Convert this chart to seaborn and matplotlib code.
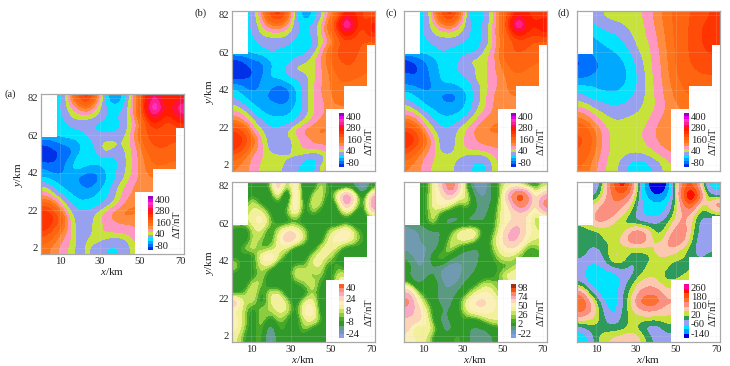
import numpy as np
import matplotlib
matplotlib.use("Agg")
import matplotlib.pyplot as plt
from matplotlib.colors import ListedColormap, BoundaryNorm
from matplotlib.patches import Rectangle
import seaborn as sns

# Delta T values, rows go from y=82 down to y=2, columns from x=2 to x=70.
# Short rows stop where the white corner starts, nothing was read under it.
grid_a = [
    [-30, -30, -25, 60, 130, 170, 90, -5, -70, -50, 10, 90, 170, 280, 170, 170, 200],
    [-30, -30, -10, 25, 60, 90, 30, -5, -30, -25, 20, 80, 200, 400, 220, 200, 300],
    [-30, -30, -20, 15, 20, 22, 18, -8, -25, -5, 18, 85, 150, 260, 160, 170, 240],
    [-30, -30, -25, -8, -5, -8, -25, -30, -30, -20, 15, 45, 130, 150, 140, 130, 150],
    [-30, -30, -30, -30, -25, -5, -5, -15, -10, -5, 25, 80, 120, 140, 140, 130, 130],
    [-80, -70, -55, -50, -45, -30, -5, 20, 22, 10, 25, 60, 110, 130, 130, 120, 120],
    [-90, -85, -80, -70, -40, -30, -20, 22, 5, -5, 25, 50, 90, 110, 115, 110, 100],
    [-90, -85, -70, -50, -25, -25, -30, -30, -30, -5, 20, 50, 75, 100, 100, 90, 90],
    [-55, -70, -70, -35, -35, -50, -55, -40, -25, -5, 22, 50, 75, 80],
    [-40, -50, -50, -60, -65, -80, -70, -50, -25, 0, 30, 50, 65, 70],
    [20, -15, -45, -50, -50, -65, -55, -35, -5, 25, 45, 60, 65],
    [50, 30, -10, -35, -50, -45, -40, -25, -5, 30, 50, 55],
    [120, 90, 30, -5, -30, -30, -25, -5, 20, 40, 70, 70],
    [170, 150, 90, 15, -5, -5, 15, 40, 60, 80, 80, 70],
    [170, 150, 110, 30, -5, -5, 20, 30, 45, 50, 50, 55],
    [150, 110, 70, 35, -5, -5, 22, 35, 38, 40, 42, 50],
    [100, 80, 50, 35, -5, 15, 20, 5, -5, -5, 15, 40],
    [80, 60, 42, 25, -5, 20, -5, -10, -25, -10, 5, 35],
]
grid_b_top = [
    [-30, -30, -10, 60, 130, 170, 110, -5, -60, -40, 5, 60, 100, 200, 170, 140, 130],
    [-30, -30, -5, 25, 80, 90, 50, -5, -30, -10, 25, 90, 170, 380, 200, 130, 190],
    [-30, -30, -10, 18, 22, 22, 18, -5, -30, -5, 30, 80, 130, 210, 150, 130, 180],
    [-30, -30, -25, -5, -5, 0, -5, -25, -30, -25, 15, 45, 110, 130, 130, 120, 110],
    [-30, -35, -30, -25, -5, -20, -30, -30, -30, -5, 40, 90, 130, 140, 130, 110, 110],
    [-90, -75, -60, -60, -40, -35, -30, -5, 0, 22, 55, 85, 120, 130, 120, 110, 100],
    [-95, -90, -80, -70, -40, -30, -5, 20, 22, 22, 45, 80, 100, 120, 115, 100, 90],
    [-90, -85, -80, -60, -35, -35, -20, -10, -5, 25, 45, 70, 90, 100, 90, 85, 80],
    [-45, -60, -75, -50, -55, -70, -60, -35, -5, 25, 50, 70, 90, 80],
    [-25, -45, -50, -55, -65, -75, -70, -50, -10, 30, 50, 65, 80],
    [10, -20, -45, -50, -55, -60, -60, -40, -5, 30, 40, 65, 75],
    [40, 25, -10, -40, -45, -45, -45, -30, -5, 25, 45, 55],
    [80, 50, 20, -5, -30, -30, -30, -5, 20, 40, 60, 65],
    [150, 120, 40, 15, -5, -5, 15, 40, 60, 70, 80, 70],
    [170, 150, 90, 30, -5, -5, 0, 18, 35, 55, 60, 60, 60],
    [160, 120, 60, 38, 0, -5, -5, 22, 38, 40, 40, 48],
    [100, 70, 45, 30, 22, 18, 18, 10, -5, -25, -15, 25, 45],
    [70, 60, 40, 25, 22, 22, -5, -5, -35, -30, 20, 50],
]
grid_b_bottom = [
    [-6, -6, -8, -4, 0, 26, -2, 20, -10, -6, 6, -2, -10, -6, -10, -24, -4],
    [-6, -6, 0, -6, -6, 14, -20, 26, -12, 6, 8, -6, 14, 36, 14, -10, 24],
    [-6, -2, 8, -2, -6, -2, -6, 24, -8, 8, 4, -8, 0, 30, 10, -8, 34],
    [6, 4, 8, 12, -2, -6, 2, 14, -6, 4, -4, -6, -4, 8, -4, -6, 14],
    [6, 4, 10, 14, 4, -6, -6, -4, -4, -8, -6, -6, -8, -6, -8, -6, -6],
    [-4, -6, 4, 8, -6, 6, 18, 16, 4, -4, -6, 4, 10, 20, 4, -2, -4],
    [-4, -6, 6, 2, -4, 10, 22, 18, 6, -6, -6, 10, 14, 14, 6, -2, -2],
    [-4, 4, 6, -2, 2, 8, 6, -6, -6, -6, 8, 12, 4, -6, -4, -2, -2],
    [-2, -4, -6, 14, 22, 6, -4, -8, -6, 8, 10, 4, -4, -6, -6],
    [6, -6, 0, 4, 4, -6, -6, 4, 2, 6, 8, -6, 2, -6],
    [-4, -6, -4, 6, -6, -8, -6, 8, 6, 0, 4, -6, 6],
    [-6, -6, 8, 2, -6, -6, -6, -2, 2, 8, -2, -6, 10],
    [-4, 2, 10, -6, 8, 8, -6, -6, -6, 4, -4, -8, 6],
    [24, 2, 6, -6, 6, 14, 6, -6, 8, 12, -6, -6, 2],
    [8, 4, -6, 6, 2, 8, 8, -6, 14, 16, -6, -6, 16],
    [14, 4, -6, 6, -4, 4, -2, -6, 6, 10, 2, -8, 8],
    [12, 2, -6, 6, -20, 2, -2, -4, 4, -2, -6, -8, 2],
    [8, -2, -4, 4, -22, -2, -4, -6, -2, -10, -8, -4, 4],
]
grid_c_top = [
    [-30, -30, -25, 60, 130, 170, 100, -5, -50, -10, 25, 90, 130, 200, 170, 160, 150],
    [-30, -30, -10, 25, 70, 90, 40, -5, -30, -10, 30, 80, 170, 380, 200, 170, 210],
    [-30, -30, -10, 15, 20, 22, 15, -5, -30, -5, 40, 90, 130, 200, 160, 150, 170],
    [-30, -30, -25, -5, -5, 0, -5, -25, -30, -10, 25, 70, 110, 130, 130, 120, 110],
    [-30, -30, -30, -30, -5, -25, -30, -30, -25, 18, 40, 90, 120, 125, 120, 100, 100],
    [-90, -75, -55, -45, -35, -30, -15, 15, 20, 25, 40, 80, 105, 110, 100, 95, 90],
    [-85, -85, -70, -45, -35, -30, -5, -5, 10, 22, 42, 70, 90, 100, 90, 85, 80],
    [-75, -80, -70, -50, -35, -35, -25, -10, 15, 30, 38, 60, 80, 85, 80],
    [-55, -60, -70, -60, -40, -45, -40, -30, -5, 22, 40, 60, 75, 80],
    [-30, -45, -50, -55, -65, -70, -60, -40, -5, 25, 50, 65, 70],
    [10, -25, -45, -50, -55, -60, -55, -35, 0, 25, 50, 65],
    [40, 30, -10, -35, -45, -45, -40, -25, 18, 35, 55, 65],
    [90, 60, 25, -5, -30, -30, -10, 18, 38, 60, 70],
    [150, 120, 50, 15, -5, -5, 20, 35, 60, 70, 75],
    [170, 150, 90, 35, -5, -5, 22, 35, 50, 60, 60],
    [150, 110, 65, 38, -5, 0, 22, 38, 40, 45, 50],
    [100, 70, 45, 30, 22, 18, 15, -5, -5, -5, 25, 40],
    [70, 60, 40, 25, 22, 20, -5, -5, -25, -25, 15, 40],
]
grid_c_bottom = [
    [-4, -4, -4, 8, 22, 70, 20, -2, -18, -18, -4, 4, 8, 4, -2, -4, 4],
    [-4, -4, -2, 8, 14, 30, 10, 8, -12, -14, -8, 2, 40, 90, 60, 4, 30],
    [-4, -4, -2, 10, 14, 8, -2, 6, -8, -12, -6, 8, 16, 60, 50, 8, 60],
    [-8, -6, -2, 6, -2, -6, -6, -4, -10, -10, -4, 8, 14, 20, 18, 2, 20],
    [-12, -8, -2, 8, -8, -12, -10, -12, -10, -8, -2, 8, 14, 25, 14, 4, -4],
    [-14, -14, -12, -8, -10, 0, 8, 14, 12, -6, -2, 10, 30, 35, 14, 8, 6],
    [-16, -14, -10, -12, -6, 4, 8, 10, 4, -8, 4, 14, 35, 25, 10, 6, 6],
    [-14, -16, -14, -12, -4, 8, -2, -8, -10, -6, 2, 10, 16, 14, -2, 0, 4],
    [-10, -16, -14, -2, 8, -6, -12, -12, -10, -4, -2, 6, 6, -2, -2],
    [-2, -14, -12, -8, -12, -18, -14, -12, -8, -6, -2, -2, -2, 6],
    [-8, -14, -10, -6, -16, -20, -14, -10, -6, -4, -4, 4, 12],
    [4, -10, -4, -2, -12, -14, -12, -4, -2, 6, 4, -2, 4],
    [30, 4, -4, -4, -14, -12, -6, 0, 8, 12, 8, 0],
    [55, 16, 2, -4, -10, -10, 0, 10, 20, 20, 14, 6],
    [30, 25, 8, -2, -8, -8, -2, 8, 14, 14, 10, 6],
    [25, 25, 12, -2, -12, -6, -2, -2, -4, 4, 8, 8],
    [22, -2, 12, 6, -8, -12, -2, -8, -10, -8, -4, -2],
    [12, 10, 8, -2, -8, -2, 2, -8, -10, -12, -8, -4],
]
grid_d_top = [
    [-20, -8, 15, 20, 20, 22, 40, 65, 90, 105, 125, 140, 150],
    [-30, -25, -8, -5, 10, 20, 35, 60, 85, 105, 130, 150, 155],
    [-60, -45, -35, -25, -5, 18, 30, 55, 85, 105, 130, 150, 155],
    [-70, -50, -45, -40, -25, 10, 25, 50, 80, 105, 130, 145, 150],
    [-85, -70, -50, -50, -40, -5, 25, 45, 80, 105, 125, 135, 140],
    [-75, -60, -55, -50, -45, -15, 22, 45, 75, 100, 115, 120, 120],
    [-40, -40, -50, -50, -40, -15, 20, 42, 70, 90, 105, 110, 110],
    [-5, -30, -30, -35, -25, -5, 18, 40, 65, 85, 90],
    [35, 15, -5, -10, -5, 5, 20, 35, 60, 70],
    [80, 45, 22, 8, 15, 18, 28, 50, 70],
    [120, 80, 38, 22, 20, 25, 38, 60, 70],
    [130, 90, 38, 22, 20, 25, 35, 55, 65],
    [115, 75, 35, 22, 15, 10, 20, 35, 50],
    [90, 60, 30, 18, -15, -40, -25, 0, 30],
]
grid_d_bottom = [
    [-40, -40, -30, 40, 120, 180, 80, -20, -100, -120, -110, -10, 80, 130, 50, -40, -45],
    [-40, -30, -5, 40, 100, 100, 50, -30, -65, -100, -70, -20, 100, 240, 120, -10, -25],
    [10, 10, 30, 60, 70, 50, 20, -30, -45, -50, -45, -10, 60, 130, 20, 20, 80],
    [10, 25, 60, 80, 55, 30, -5, -30, -45, -45, -35, 5, 50, 50, -5, -5, 10],
    [10, 30, 60, 40, 15, -5, -10, -20, -25, -20, -5, 20, 60, 30, -20, -30, -30],
    [-8, -5, -5, 8, 10, 10, 50, 60, 30, -5, 5, 50, 80, 20, -20, -30, -30],
    [-5, -5, 5, 5, 10, 30, 80, 90, 40, 5, 25, 90, 70, 10, -25, -30, -30],
    [5, -20, -20, -5, 20, 10, 5, 10, 10, 30, 50, 40, 15, -5, -25, -30, -30],
    [-15, -25, -25, -5, 35, 15, -5, -5, -5, 20, 15, 8, 5, -5, -20, -10, 30],
    [-25, -40, -40, -25, -10, -5, -25, -10, 10, 10, 10, -5, -5, 5],
    [-30, -45, -50, -45, -45, -30, -20, 5, 15, 15, -5, -5, 5],
    [-10, -40, -45, -55, -50, -25, 0, 30, 40, 30, 10],
    [70, -5, -40, -50, -45, -15, 15, 55, 70, 70, 30],
    [120, 60, -5, -40, -45, -15, 25, 90, 110, 100, 55],
    [90, 60, 10, -30, -45, -10, 15, 35, 50, 40, 25],
    [25, 20, 10, -20, -30, -5, 10, 8, 5, 5, 15],
    [-30, -5, -5, -8, -5, -5, 10, -5, -30, -30, -10],
    [-50, -35, 5, 20, 25, 35, 40, 25, -5, -25, -20],
]

# Colour bands, one more edge than colours
edges_field = [-120, -80, -60, -40, -15, 10, 30, 50, 70, 90, 120, 145, 170, 210, 250, 290, 330, 375, 420]
colors_field = ["#0030e8", "#0070ff", "#00a8ff", "#00e4ff", "#98a0f0", "#c8e23c", "#ff98c0", "#ff8c40",
                "#ff7418", "#ff6410", "#ff4c08", "#ff3400", "#ff1c00", "#ff1040", "#ff2090", "#ff30c0",
                "#e800e0", "#a000c0"]
edges_b = [-30, -20, -14, -9, -1, 1, 3, 6, 10, 14, 20, 28, 36, 44]
colors_b = ["#8c9cf0", "#6f9ab0", "#5f9f8c", "#2f9a2a", "#48a828", "#8ccc40", "#c4e45c", "#f2f09a",
            "#fbf0b8", "#fcd4b8", "#f8a8c0", "#fc9078", "#ff5a20"]
edges_c = [-30, -18, -13, -8, -1, 1, 3, 6, 10, 16, 26, 40, 60, 80, 100]
colors_c = ["#78a0f0", "#6f9ab0", "#5a9a80", "#2f9a2a", "#48a828", "#8ccc40", "#c4e45c", "#f2f09a",
            "#fbf0b8", "#fcd4b8", "#f8a8c0", "#fc8868", "#f45010", "#a83010"]
edges_d = [-150, -90, -60, -35, -15, 3, 20, 45, 75, 110, 145, 190, 260]
colors_d = ["#0000e8", "#00a0ff", "#00e4ff", "#98a0f0", "#2e9a5c", "#c8e23c", "#fcc8b0", "#fc9080",
            "#ff7030", "#ff5010", "#ff1000", "#ff00a0"]

labels_field = ["400", "280", "160", "40", "-80"]
labels_b = ["40", "24", "8", "-8", "-24"]
labels_c = ["98", "74", "50", "26", "2", "-22"]
labels_d = ["260", "180", "100", "20", "-60", "-140"]
x_ticks = [10, 30, 50, 70]
y_ticks = [2, 22, 42, 62, 82]

sns.set_theme(style="white")
plt.rcParams["font.family"] = ["Liberation Serif", "DejaVu Serif"]
plt.rcParams["mathtext.fontset"] = "custom"
plt.rcParams["mathtext.it"] = "Liberation Serif:italic"
plt.rcParams["mathtext.rm"] = "Liberation Serif"

W, H = 730, 366
FS = 7.6
XLIM = (0.5, 72)
YLIM = (-1.2, 84.1)


def px_axes(fig, left, top, width, height):
    return fig.add_axes([left / W, 1 - (top + height) / H, width / W, height / H])


# Rows that stop at the white corner get their last value repeated, the corner hides it anyway
def fill_rows(grid):
    n = max(len(row) for row in grid)
    return np.array([row + [row[-1]] * (n - len(row)) for row in grid], dtype=float)


# Function to draw one map with its own legend strip
def draw_map(fig, left, top, grid, edges, colors, labels, show_x, show_y):
    ax = px_axes(fig, left, top, 143, 160)
    cmap = ListedColormap(colors)
    norm = BoundaryNorm(edges, cmap.N, clip=True)
    ax.imshow(fill_rows(grid), cmap=cmap, norm=norm, interpolation="bicubic",
              interpolation_stage="data", extent=(*XLIM, *YLIM), aspect="auto", zorder=1)

    # The survey did not cover these corners
    for x0, y0, x1, y1 in [(XLIM[0], 61.2, 8.3, YLIM[1]), (47.5, YLIM[0], XLIM[1], 31.9),
                           (56.5, YLIM[0], XLIM[1], 44.3), (68, YLIM[0], XLIM[1], 66)]:
        ax.add_patch(Rectangle((x0, y0), x1 - x0, y1 - y0, color="white", lw=0, zorder=2))

    ax.set_xlim(*XLIM)
    ax.set_ylim(*YLIM)
    ax.set_xticks(x_ticks)
    ax.set_yticks(y_ticks)
    ax.tick_params(length=0, pad=2, labelsize=FS, colors="#222222",
                   labelbottom=show_x, labelleft=show_y)
    ax.grid(True, color="#dddddd", lw=0.4, alpha=0.3, zorder=3)
    ax.set_axisbelow(False)
    for spine in ax.spines.values():
        spine.set_color("#a8a8a8")
        spine.set_linewidth(0.9)
    if show_x:
        ax.set_xlabel(r"$\mathit{x}$/km", fontsize=FS + 0.4, labelpad=0.5, color="#222222")
    if show_y:
        ax.set_ylabel(r"$\mathit{y}$/km", fontsize=FS + 0.4, labelpad=2, color="#222222")

    # Legend strip inside the empty corner
    cax = px_axes(fig, left + 107, top + 102, 4.6, 54)
    bands = np.arange(len(colors))[::-1].reshape(-1, 1)
    sns.heatmap(bands, ax=cax, cmap=cmap, cbar=False, xticklabels=False, yticklabels=False)
    cax.yaxis.tick_right()
    n = len(bands)
    spots = np.linspace(0.06, 0.91, len(labels)) * n
    cax.set_yticks(spots)
    cax.set_yticklabels(labels, rotation=0, fontsize=FS, color="#222222")
    cax.tick_params(length=0, pad=1.5)
    ax.text(136 / 143, 1 - 130 / 160, r"$\Delta\mathit{T}$/nT", transform=ax.transAxes, rotation=90,
            ha="center", va="center", fontsize=FS, color="#222222", zorder=5)
    return ax


fig = plt.figure(figsize=(W / 100, H / 100), dpi=100)

draw_map(fig, 41, 94, grid_a, edges_field, colors_field, labels_field, True, True)
draw_map(fig, 232, 11, grid_b_top, edges_field, colors_field, labels_field, False, True)
draw_map(fig, 232, 182, grid_b_bottom, edges_b, colors_b, labels_b, True, True)
draw_map(fig, 404, 11, grid_c_top, edges_field, colors_field, labels_field, False, False)
draw_map(fig, 404, 182, grid_c_bottom, edges_c, colors_c, labels_c, True, False)
draw_map(fig, 577, 11, grid_d_top, edges_field, colors_field, labels_field, False, False)
draw_map(fig, 577, 182, grid_d_bottom, edges_d, colors_d, labels_d, True, False)

for name, px, py in [("(a)", 10, 94), ("(b)", 201, 13), ("(c)", 391, 13), ("(d)", 564, 13)]:
    fig.text(px / W, 1 - py / H, name, ha="center", va="center", fontsize=FS, color="#222222")

fig.savefig("out.png", dpi=100)
